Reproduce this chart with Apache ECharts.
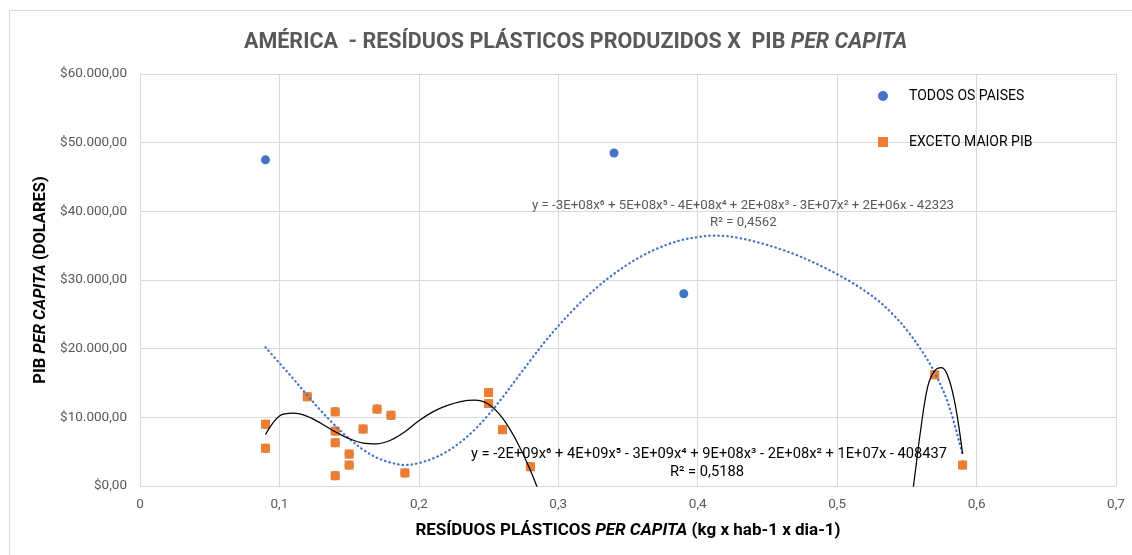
<!DOCTYPE html>
<html>
<head>
<meta charset="utf-8">
<script src="https://cdn.jsdelivr.net/npm/echarts@6/dist/echarts.min.js"></script>
<style>
html,body{margin:0;padding:0;background:#fff;}
#main{width:1132px;height:555px;}
</style>
</head>
<body>
<div id="main"></div>
<script>
// ---- data ----
var allCountries = [
  [0.09, 47500], [0.34, 48500], [0.39, 28000],
  [0.09, 5500], [0.09, 9000], [0.12, 13000], [0.14, 10800], [0.14, 8000],
  [0.14, 6300], [0.14, 1500], [0.15, 4650], [0.15, 3050], [0.16, 8300],
  [0.17, 11200], [0.18, 10300], [0.19, 1900], [0.25, 13600], [0.25, 12000],
  [0.26, 8200], [0.28, 2800], [0.57, 16200], [0.59, 3050]
];
var exceptMax = [
  [0.09, 5500], [0.09, 9000], [0.12, 13000], [0.14, 10800], [0.14, 8000],
  [0.14, 6300], [0.14, 1500], [0.15, 4650], [0.15, 3050], [0.16, 8300],
  [0.17, 11200], [0.18, 10300], [0.19, 1900], [0.25, 13600], [0.25, 12000],
  [0.26, 8200], [0.28, 2800], [0.57, 16200], [0.59, 3050]
];
// trendline (all countries)
var trendAll = [
  [0.09, 20200], [0.10, 17900], [0.11, 15600], [0.12, 13200], [0.13, 10900],
  [0.14, 8800], [0.15, 6900], [0.16, 5300], [0.17, 4100], [0.18, 3400],
  [0.19, 3050], [0.20, 3350], [0.21, 4000], [0.22, 5000], [0.23, 6400],
  [0.24, 8200], [0.25, 10400], [0.26, 12900], [0.27, 15600], [0.28, 18300],
  [0.29, 20900], [0.30, 23300], [0.31, 25500], [0.32, 27500], [0.33, 29300],
  [0.34, 30900], [0.35, 32300], [0.36, 33500], [0.37, 34500], [0.38, 35300],
  [0.39, 35900], [0.40, 36250], [0.41, 36450], [0.42, 36400], [0.43, 36100],
  [0.44, 35650], [0.45, 35100], [0.46, 34450], [0.47, 33700], [0.48, 32850],
  [0.49, 31900], [0.50, 30850], [0.51, 29700], [0.52, 28400], [0.53, 26900],
  [0.54, 25000], [0.55, 22700], [0.56, 19900], [0.57, 16500], [0.58, 11800],
  [0.59, 4500]
];
// trendline (except max GDP); values below 0 are clipped by the axis
var trendExcept = [
  [0.09, 7500], [0.10, 10200], [0.11, 10600], [0.12, 10150], [0.13, 9100],
  [0.14, 7900], [0.15, 6900], [0.16, 6250], [0.17, 6150], [0.18, 6700],
  [0.19, 7900], [0.20, 9500], [0.21, 10800], [0.22, 11700], [0.23, 12300],
  [0.24, 12500], [0.25, 11900], [0.26, 9900], [0.27, 6600], [0.28, 2300],
  [0.29, -3000],
  null,
  [0.55, -7000], [0.555, 400], [0.56, 8300], [0.565, 14500], [0.57, 16800],
  [0.575, 17250], [0.58, 15700], [0.585, 11500], [0.59, 4700]
];
var xTicks = [0, 0.1, 0.2, 0.3, 0.4, 0.5, 0.6, 0.7];
var yTicks = [0, 10000, 20000, 30000, 40000, 50000, 60000];

var eqAll = 'y = -3E+08x\u2076 + 5E+08x\u2075 - 4E+08x\u2074 + 2E+08x\u00b3 - 3E+07x\u00b2 + 2E+06x - 42323';
var r2All = 'R\u00b2 = 0,4562';
var eqExcept = 'y = -2E+09x\u2076 + 4E+09x\u2075 - 3E+09x\u2074 + 9E+08x\u00b3 - 2E+08x\u00b2 + 1E+07x - 408437';
var r2Except = 'R\u00b2 = 0,5188';

function fmtMoney(v){
  var s = Math.round(v).toString().replace(/\B(?=(\d{3})+(?!\d))/g, '.');
  return '$' + s + ',00';
}

var FONT = 'Roboto, "Liberation Sans", sans-serif';
var chart = echarts.init(document.getElementById('main'));
chart.setOption({
  backgroundColor: '#fff',
  animation: false,
  textStyle: {fontFamily: FONT},
  title: {
    text: '{a|AMÉRICA  - RESÍDUOS PLÁSTICOS PRODUZIDOS X  PIB }{b|PER CAPITA}',
    left: 239, top: 27,
    textStyle: {
      rich: {
        a: {fontSize: 21.5, fontWeight: 'bold', color: '#595959', fontFamily: FONT},
        b: {fontSize: 21.5, fontWeight: 'bold', fontStyle: 'italic', color: '#595959', fontFamily: FONT}
      }
    }
  },
  legend: {
    orient: 'vertical', left: 873, top: 83, itemGap: 30, padding: 5,
    itemWidth: 10, itemHeight: 10,
    textStyle: {fontSize: 14, lineHeight: 16, color: '#000', fontFamily: FONT, padding: [0, 0, 0, 16]},
    data: [{name: 'TODOS OS PAISES', icon: 'circle'}, {name: 'EXCETO MAIOR PIB', icon: 'rect'}]
  },
  grid: {left: 140, right: 16, top: 74, bottom: 69, containLabel: false},
  xAxis: {
    type: 'value', min: xTicks[0], max: xTicks[xTicks.length - 1], interval: 0.1,
    name: '{a|RESÍDUOS PLÁSTICOS }{b|PER CAPITA}{a| (kg x hab-1 x dia-1)}',
    nameLocation: 'middle', nameGap: 36,
    nameTextStyle: {
      rich: {
        a: {fontSize: 17, fontWeight: 'bold', color: '#000', fontFamily: FONT},
        b: {fontSize: 17, fontWeight: 'bold', fontStyle: 'italic', color: '#000', fontFamily: FONT}
      }
    },
    axisLine: {show: true, lineStyle: {color: '#d9d9d9', width: 1}},
    axisTick: {show: false},
    axisLabel: {color: '#595959', fontSize: 13.5, margin: 12,
      formatter: function(v){ return String(+v.toFixed(1)).replace('.', ','); }},
    splitLine: {show: true, lineStyle: {color: '#d9d9d9', width: 1}}
  },
  yAxis: {
    type: 'value', min: yTicks[0], max: yTicks[yTicks.length - 1], interval: 10000,
    name: '{a|PIB }{b|PER CAPITA}{a| (DOLARES)}',
    nameLocation: 'middle', nameGap: 89, nameRotate: 90,
    nameTextStyle: {
      rich: {
        a: {fontSize: 16.5, fontWeight: 'bold', color: '#000', fontFamily: FONT},
        b: {fontSize: 16.5, fontWeight: 'bold', fontStyle: 'italic', color: '#000', fontFamily: FONT}
      }
    },
    axisLine: {show: true, lineStyle: {color: '#d9d9d9', width: 1}},
    axisTick: {show: false},
    axisLabel: {color: '#595959', fontSize: 13.5, margin: 13, formatter: fmtMoney},
    splitLine: {show: true, lineStyle: {color: '#d9d9d9', width: 1}}
  },
  series: [
    {
      name: 'TODOS OS PAISES', type: 'scatter', data: allCountries,
      symbol: 'circle', symbolSize: 9,
      itemStyle: {color: '#4472C4', opacity: 1}, z: 2
    },
    {
      name: 'EXCETO MAIOR PIB', type: 'scatter', data: exceptMax,
      symbol: 'rect', symbolSize: 9,
      itemStyle: {color: '#ED7D31', opacity: 1}, z: 3
    },
    {
      name: 'trendAll', type: 'line', data: trendAll, smooth: 0.35,
      showSymbol: false, symbol: 'none', clip: true,
      lineStyle: {color: '#4472C4', width: 2.25, type: [0.5, 4], cap: 'round'},
      z: 4, silent: true
    },
    {
      name: 'trendExcept', type: 'line', data: trendExcept, smooth: 0.35,
      showSymbol: false, symbol: 'none', connectNulls: false, clip: true,
      lineStyle: {color: '#000', width: 1.25},
      z: 5, silent: true
    }
  ],
  graphic: [
    {type: 'rect', silent: true, z: -10,
      shape: {x: 9.5, y: 10.5, width: 1140, height: 560},
      style: {fill: 'none', stroke: '#d9d9d9', lineWidth: 1}},
    {type: 'text', left: 532, top: 199, z: 10,
      style: {text: eqAll, fontSize: 13.25, fill: '#595959', fontFamily: FONT}},
    {type: 'text', left: 710, top: 216, z: 10,
      style: {text: r2All, fontSize: 13.25, fill: '#595959', fontFamily: FONT}},
    {type: 'text', left: 471, top: 447, z: 10,
      style: {text: eqExcept, fontSize: 14.7, fill: '#000', fontFamily: FONT}},
    {type: 'text', left: 670, top: 465, z: 10,
      style: {text: r2Except, fontSize: 14.7, fill: '#000', fontFamily: FONT}}
  ]
});
</script>
</body>
</html>
